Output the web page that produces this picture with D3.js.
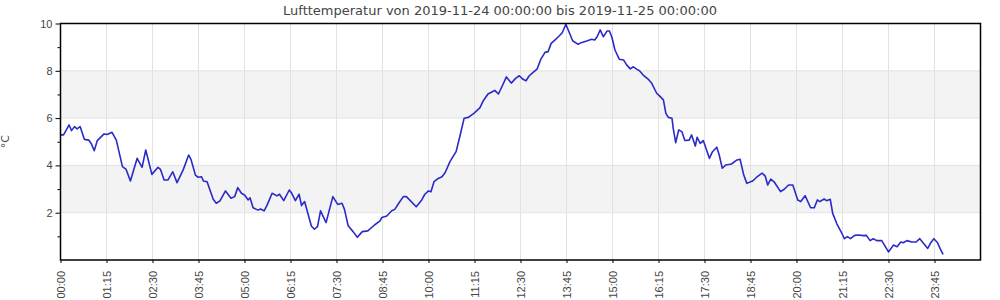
<!DOCTYPE html>
<html>
<head>
<meta charset="utf-8">
<script src="https://cdn.jsdelivr.net/npm/d3@7"></script>
<style>
  body { margin: 0; background: #fff; }
  svg { display: block; font-family: "DejaVu Sans", sans-serif; }
  .axis text { fill: #444; font-size: 11px; }
  .axis path, .axis line { stroke: #000; }
  .grid line { stroke: #e2e2e2; stroke-width: 1px; }
</style>
</head>
<body>
<div id="chart"></div>
<script>
// Lufttemperatur, 2019-11-24
var day = "2019-11-24";

var times = [
  "00:00","00:05","00:14","00:18","00:23","00:27","00:32","00:39","00:46","00:50",
  "00:55","01:00","01:11","01:16","01:24","01:31","01:41","01:47","01:54","02:05",
  "02:13","02:19","02:29","02:39","02:43","02:49","02:55","03:03","03:10","03:20",
  "03:29","03:33","03:40","03:44","03:50","03:53","03:59","04:09","04:14","04:20",
  "04:29","04:38","04:44","04:49","04:55","05:00","05:06","05:09","05:14","05:22",
  "05:26","05:32","05:37","05:45","05:53","05:57","06:04","06:13","06:17","06:23",
  "06:29","06:33","06:38","06:49","06:54","06:59","07:04","07:13","07:24","07:32",
  "07:39","07:43","07:49","07:57","08:04","08:12","08:21","08:32","08:41","08:44",
  "08:52","09:00","09:05","09:12","09:19","09:24","09:40","09:49","09:54","10:00",
  "10:04","10:09","10:16","10:22","10:27","10:35","10:45","10:51","10:58","11:05",
  "11:14","11:24","11:29","11:37","11:48","11:54","12:01","12:07","12:15","12:22",
  "12:28","12:34","12:39","12:44","12:51","12:57","13:03","13:10","13:15","13:20",
  "13:26","13:33","13:38","13:44","13:50","13:55","14:04","14:09","14:18","14:26",
  "14:31","14:35","14:40","14:45","14:51","14:55","14:59","15:04","15:11","15:18",
  "15:23","15:29","15:34","15:40","15:44","15:50","15:58","16:04","16:12","16:17",
  "16:23","16:27","16:31","16:37","16:39","16:43","16:48","16:53","16:58","17:05",
  "17:09","17:15","17:18","17:23","17:28","17:38","17:43","17:50","17:54","17:59",
  "18:05","18:14","18:23","18:28","18:34","18:39","18:49","18:55","19:04","19:09",
  "19:13","19:18","19:24","19:34","19:40","19:47","19:54","20:02","20:07","20:14",
  "20:23","20:29","20:34","20:38","20:45","20:49","20:55","20:59","21:06","21:14",
  "21:18","21:23","21:28","21:35","21:41","21:49","21:54","22:00","22:05","22:11",
  "22:19","22:30","22:38","22:44","22:50","22:54","23:00","23:08","23:15","23:21",
  "23:27","23:34","23:39","23:44","23:50","23:54","23:59"
];

var temps = [
  5.29,5.29,5.71,5.47,5.64,5.54,5.64,5.10,5.07,4.93,
  4.62,5.05,5.33,5.31,5.40,5.07,3.95,3.83,3.34,4.30,
  3.92,4.65,3.62,3.92,3.83,3.38,3.38,3.73,3.27,3.81,
  4.44,4.23,3.59,3.50,3.52,3.34,3.31,2.57,2.40,2.50,
  2.92,2.61,2.68,3.06,2.82,2.75,2.54,2.63,2.21,2.11,
  2.16,2.08,2.33,2.82,2.71,2.78,2.51,2.96,2.82,2.51,
  2.78,2.30,2.47,1.44,1.30,1.41,2.08,1.58,2.68,2.35,
  2.40,2.14,1.45,1.20,0.96,1.20,1.23,1.48,1.65,1.80,
  1.86,2.08,2.14,2.42,2.68,2.68,2.25,2.54,2.78,2.92,
  2.89,3.31,3.45,3.52,3.69,4.16,4.58,5.21,5.99,6.03,
  6.20,6.44,6.72,7.02,7.17,7.02,7.40,7.74,7.48,7.68,
  7.79,7.64,7.58,7.78,7.94,8.07,8.48,8.78,8.81,9.16,
  9.30,9.47,9.61,9.97,9.59,9.27,9.12,9.19,9.26,9.33,
  9.30,9.44,9.73,9.44,9.68,9.68,9.42,8.88,8.49,8.46,
  8.25,8.08,8.17,8.06,8.00,7.82,7.65,7.47,7.05,6.93,
  6.77,6.20,6.03,5.99,5.57,4.96,5.50,5.43,5.05,5.07,
  5.29,4.82,5.19,4.93,5.05,4.30,4.58,4.77,4.44,3.88,
  4.02,4.06,4.23,4.26,3.59,3.24,3.35,3.50,3.67,3.55,
  3.17,3.42,3.29,2.89,2.99,3.17,3.17,2.54,2.47,2.72,
  2.21,2.21,2.54,2.47,2.58,2.51,2.57,1.97,1.52,1.13,
  0.90,0.99,0.90,1.04,1.06,1.03,1.04,0.82,0.90,0.82,
  0.82,0.34,0.63,0.56,0.76,0.73,0.82,0.76,0.76,0.90,
  0.71,0.49,0.73,0.90,0.73,0.49,0.24
];

var xTickLabels = ["00:00","01:15","02:30","03:45","05:00","06:15","07:30","08:45","10:00","11:15",
  "12:30","13:45","15:00","16:15","17:30","18:45","20:00","21:15","22:30","23:45"];
var yTicks = [2, 4, 6, 8, 10];
var yMinorTicks = [1, 3, 5, 7, 9];

var width = 1000, height = 300;
var margin = {top: 23.5, right: 19.5, bottom: 40, left: 60.5};

var parse = d3.timeParse("%Y-%m-%d %H:%M");
var data = times.map(function(t, i) { return {date: parse(day + " " + t), value: temps[i]}; });

var start = parse(day + " 00:00");
var x = d3.scaleTime()
  .domain([start, d3.timeHour.offset(start, 25)])
  .range([margin.left, width - margin.right]);
var y = d3.scaleLinear()
  .domain([0, 10])
  .range([height - margin.bottom, margin.top]);

var svg = d3.select("#chart").append("svg")
  .attr("width", width)
  .attr("height", height);

// alternating bands
var bands = d3.pairs([0].concat(yTicks)).filter(function(d, i) { return i % 2 === 1; });
svg.append("g").selectAll("rect")
  .data(bands)
.enter().append("rect")
  .attr("x", x.range()[0])
  .attr("width", x.range()[1] - x.range()[0])
  .attr("y", function(d) { return y(d[1]); })
  .attr("height", function(d) { return y(d[0]) - y(d[1]); })
  .attr("fill", "#f3f3f3");

var xTickDates = xTickLabels.map(function(t) { return parse(day + " " + t); });

var grid = svg.append("g").attr("class", "grid");
grid.selectAll("line.h")
  .data(yTicks)
.enter().append("line")
  .attr("class", "h")
  .attr("x1", x.range()[0]).attr("x2", x.range()[1])
  .attr("y1", function(d) { return y(d); })
  .attr("y2", function(d) { return y(d); });
grid.selectAll("line.v")
  .data(xTickDates.slice(1))
.enter().append("line")
  .attr("class", "v")
  .attr("y1", y.range()[0]).attr("y2", y.range()[1])
  .attr("x1", function(d) { return x(d); })
  .attr("x2", function(d) { return x(d); });

// line
var line = d3.line()
  .x(function(d) { return x(d.date); })
  .y(function(d) { return y(d.value); });

svg.append("path")
  .datum(data)
  .attr("fill", "none")
  .attr("stroke", "#2a2ac8")
  .attr("stroke-width", 1.6)
  .attr("stroke-linejoin", "round")
  .attr("d", line);

// frame
svg.append("rect")
  .attr("x", x.range()[0])
  .attr("y", y.range()[1])
  .attr("width", x.range()[1] - x.range()[0])
  .attr("height", y.range()[0] - y.range()[1])
  .attr("fill", "none")
  .attr("stroke", "#000")
  .attr("stroke-width", 1.5);

// y axis
var yAxis = svg.append("g")
  .attr("class", "axis")
  .attr("transform", "translate(" + margin.left + ",0)")
  .call(d3.axisLeft(y).tickValues(yTicks).tickSize(5).tickPadding(3));
yAxis.select(".domain").remove();

svg.append("g")
  .attr("class", "axis")
  .attr("transform", "translate(" + margin.left + ",0)")
  .call(d3.axisLeft(y).tickValues(yMinorTicks).tickSize(3).tickFormat(""))
  .select(".domain").remove();

// x axis
var xAxis = svg.append("g")
  .attr("class", "axis")
  .attr("transform", "translate(0," + y.range()[0] + ")")
  .call(d3.axisBottom(x).tickValues(xTickDates).tickSize(3).tickFormat(d3.timeFormat("%H:%M")));
xAxis.select(".domain").remove();
xAxis.selectAll("text")
  .attr("transform", "rotate(-90)")
  .attr("text-anchor", "end")
  .attr("x", -11)
  .attr("y", 0)
  .attr("dy", "0.35em");

// labels
svg.append("text")
  .attr("x", 500)
  .attr("y", 15)
  .attr("text-anchor", "middle")
  .attr("fill", "#444")
  .style("font-size", "13px")
  .text("Lufttemperatur von 2019-11-24 00:00:00 bis 2019-11-25 00:00:00");

svg.append("text")
  .attr("transform", "translate(9," + (y(5)) + ") rotate(-90)")
  .attr("text-anchor", "middle")
  .attr("fill", "#444")
  .style("font-size", "11px")
  .text("°C");
</script>
</body>
</html>
